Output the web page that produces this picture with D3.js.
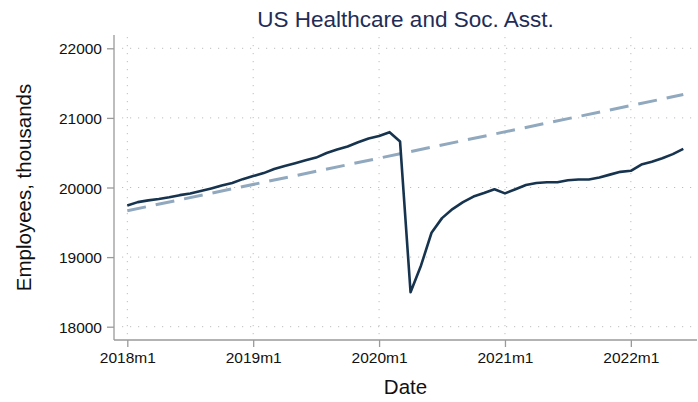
<!DOCTYPE html>
<html><head><meta charset="utf-8">
<script src="https://cdn.jsdelivr.net/npm/d3@7"></script>
<style>body{margin:0;background:#fff}svg{display:block}</style>
</head><body>
<svg id="c" width="698" height="402"></svg>
<script>
// monthly index: 0 = 2018m1 ... 53 = 2022m6
const startYear = 2018;
const employment = [
  19740, 19790, 19815, 19835, 19860, 19890, 19915, 19950, 19985, 20030, 20065, 20120,
  20165, 20207, 20265, 20310, 20350, 20390, 20430, 20495, 20545, 20590, 20650, 20705,
  20740, 20795, 20660, 18495, 18880, 19350, 19560, 19690, 19790, 19870, 19920, 19975,
  19915, 19975, 20035, 20065, 20075, 20075, 20105, 20115, 20115, 20145, 20185, 20225,
  20240, 20330, 20370, 20420, 20480, 20555
];
const trendMonths = [0, 53];
const trendValues = [19666, 21335];
const xTicks = [0, 12, 24, 36, 48];
const xTickLabels = ["2018m1", "2019m1", "2020m1", "2021m1", "2022m1"];
const yTicks = [18000, 19000, 20000, 21000, 22000];

const svg = d3.select("#c");
const L = 114, R = 697, T = 35, B = 340;
const x = d3.scaleLinear().domain([0, 53]).range([127.3, 683.3]);
const y = d3.scaleLinear().domain([18000, 22000]).range([326.7, 48.3]);
const font = "'Liberation Sans', Arial, Helvetica, sans-serif";

// grid
const grid = svg.append("g").attr("stroke", "#bdbdbd").attr("stroke-width", 1)
  .attr("stroke-dasharray", "1.2,6.8");
yTicks.forEach(v => grid.append("line").attr("x1", 122).attr("x2", R)
  .attr("y1", y(v)).attr("y2", y(v)));
xTicks.forEach(v => grid.append("line").attr("x1", x(v)).attr("x2", x(v))
  .attr("y1", T + 2).attr("y2", B - 2));

// axes
const xAxis = d3.axisBottom(x).tickValues(xTicks).tickSize(7).tickPadding(5)
  .tickFormat((d, i) => xTickLabels[i]);
const gx = svg.append("g").attr("transform", `translate(0,${B})`).call(xAxis);
gx.select(".domain").attr("d", `M${L},0H${R}`);
const yAxis = d3.axisLeft(y).tickValues(yTicks).tickSize(7).tickPadding(5)
  .tickFormat(d3.format("d"));
const gy = svg.append("g").attr("transform", `translate(${L},0)`).call(yAxis);
gy.select(".domain").attr("d", `M0,${T}V${B}`);
[gx, gy].forEach(g => {
  g.selectAll(".domain").attr("stroke", "#9a9a9a").attr("stroke-width", 1.3);
  g.selectAll(".tick line").attr("stroke", "#9a9a9a").attr("stroke-width", 1.3);
  g.selectAll("text").attr("font-family", font).attr("font-size", 15.5).attr("fill", "#111");
});
gy.selectAll("text").attr("dy", "0.36em");

// lines
const lineGen = d3.line().x(d => x(d[0])).y(d => y(d[1]));
svg.append("path")
  .datum(trendMonths.map((m, i) => [m, trendValues[i]]))
  .attr("d", lineGen).attr("fill", "none").attr("stroke", "#91a9bf")
  .attr("stroke-width", 3).attr("stroke-dasharray", "19,10");
svg.append("path")
  .datum(employment.map((v, i) => [i, v]))
  .attr("d", lineGen).attr("fill", "none").attr("stroke", "#17344f")
  .attr("stroke-width", 2.6).attr("stroke-linejoin", "round");

// titles
svg.append("text").attr("x", (L + R) / 2).attr("y", 26.5).attr("text-anchor", "middle")
  .attr("font-family", font).attr("font-size", 22.5).attr("fill", "#1f2d56")
  .text("US Healthcare and Soc. Asst.");
svg.append("text").attr("x", (L + R) / 2).attr("y", 394).attr("text-anchor", "middle")
  .attr("font-family", font).attr("font-size", 20.5).attr("fill", "#111").text("Date");
svg.append("text").attr("transform", `translate(31,${(T + B) / 2}) rotate(-90)`)
  .attr("text-anchor", "middle").attr("font-family", font).attr("font-size", 20.5)
  .attr("fill", "#111").text("Employees, thousands");
</script>
</body></html>
